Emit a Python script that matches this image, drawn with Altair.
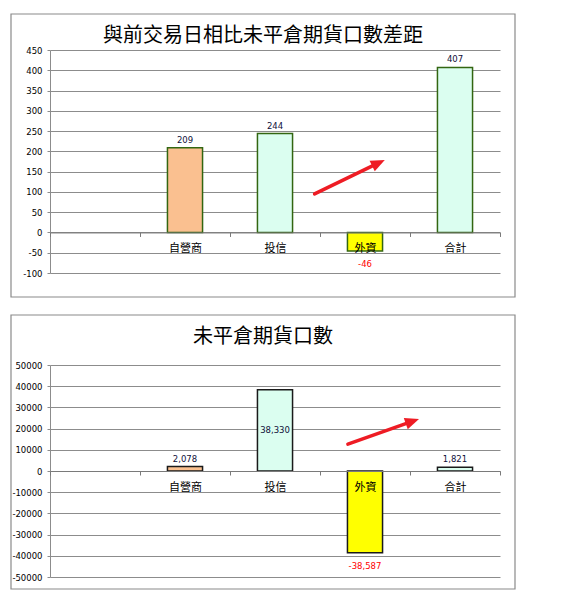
import json
import math

import altair as alt
import pandas as pd

# ---------------- data ----------------
categories = ["", "自營商", "投信", "外資", "合計"]
bar_categories = ["自營商", "投信", "外資", "合計"]

diff_title = "與前交易日相比未平倉期貨口數差距"
diff_values = [209, 244, -46, 407]
diff_ticks = [-100, -50, 0, 50, 100, 150, 200, 250, 300, 350, 400, 450]

oi_title = "未平倉期貨口數"
oi_values = [2078, 38330, -38587, 1821]
oi_ticks = [-50000, -40000, -30000, -20000, -10000, 0,
            10000, 20000, 30000, 40000, 50000]

# red arrow annotations: x in category-slot units (slot i spans [i, i+1]), y in data units
diff_arrow_x = [2.94, 3.72]
diff_arrow_y = [95, 179]
oi_arrow_x = [3.31, 4.10]
oi_arrow_y = [12700, 24500]

# ---------------- styles ----------------
diff_fills = ["#FAC090", "#DBFEF0", "#FFFF00", "#DBFEF0"]
oi_fills = ["#FCD5B4", "#DBFEF0", "#FFFF00", "#DDEBF4"]
GRID = "#8c8c8c"
NUM_FONT = "DejaVu Sans"
CJK_FONT = "Noto Sans CJK TC"
ARROW_RED = "#EE1C24"
ARROW_HEAD = "M0,0L0.55,1.3L-0.55,1.3Z"


def panel(title, values, ticks, fills, stroke, arrow_x, arrow_y, W, H,
          frame_box, title_dx, fmt, center_cats=()):
    ymin, ymax = ticks[0], ticks[-1]
    zero_from_bottom = H * (0 - ymin) / (ymax - ymin)

    df = pd.DataFrame({"cat": bar_categories, "value": values})
    df["mid"] = df["value"] / 2

    x_enc = alt.X(
        "cat:N",
        scale=alt.Scale(domain=categories, paddingInner=0, paddingOuter=0),
        axis=alt.Axis(
            title=None, labelAngle=0, tickBand="extent", offset=-zero_from_bottom,
            zindex=1, grid=False, domainColor="#7a7a7a", tickColor="#7a7a7a",
            tickSize=4, labelPadding=6, labelFont=CJK_FONT, labelFontSize=11,
            labelColor="#000000",
        ),
    )
    y_axis = alt.Axis(
        title=None, values=ticks, format="d", grid=True, gridColor=GRID,
        gridWidth=1, domainColor=GRID, tickColor=GRID, tickSize=3,
        labelPadding=5, labelFont=NUM_FONT, labelFontSize=8.5,
        labelColor="#000000",
    )
    y_scale = alt.Scale(domain=[ymin, ymax], nice=False, zero=False)
    y_enc = alt.Y("value:Q", scale=y_scale, axis=y_axis)

    bars = alt.Chart(df).mark_bar(
        width=alt.RelativeBandSize(0.39), stroke=stroke, strokeWidth=1.5
    ).encode(
        x=x_enc,
        y=y_enc,
        y2=alt.datum(0),
        color=alt.Color("cat:N", scale=alt.Scale(domain=bar_categories, range=fills),
                        legend=None),
    )

    clist = json.dumps(list(center_cats), ensure_ascii=False)
    base = alt.Chart(df).encode(x=x_enc, text=alt.Text("value:Q", format=fmt))
    pos = base.transform_filter(
        f"datum.value >= 0 && indexof({clist}, datum.cat) < 0"
    ).mark_text(dy=-8, baseline="middle", font=NUM_FONT, fontSize=8.5,
                color="#10103a").encode(y=y_enc)
    neg = base.transform_filter(
        f"datum.value < 0 && indexof({clist}, datum.cat) < 0"
    ).mark_text(dy=13, baseline="middle", font=NUM_FONT, fontSize=8.5,
                color="#FF0000").encode(y=y_enc)
    layers = [bars, pos, neg]
    if center_cats:
        mid = base.transform_filter(
            f"indexof({clist}, datum.cat) >= 0"
        ).mark_text(baseline="middle", font=NUM_FONT, fontSize=8.5,
                    color="#10103a").encode(
            y=alt.Y("mid:Q", scale=y_scale, axis=y_axis))
        layers.append(mid)
    inner = alt.layer(*layers)

    # arrow annotation
    sx = W / len(categories)
    sy = H / (ymax - ymin)
    dxp = (arrow_x[1] - arrow_x[0]) * sx
    dyp = (arrow_y[1] - arrow_y[0]) * sy
    length = math.hypot(dxp, dyp)
    t = 1 - 8 / length
    shaft = pd.DataFrame({
        "ax": [arrow_x[0], arrow_x[0] + t * (arrow_x[1] - arrow_x[0])],
        "value": [arrow_y[0], arrow_y[0] + t * (arrow_y[1] - arrow_y[0])],
    })
    tip = pd.DataFrame({"ax": [arrow_x[1]], "value": [arrow_y[1]]})
    angle = math.degrees(math.atan2(dxp, dyp))
    ax_enc = alt.X("ax:Q", scale=alt.Scale(domain=[0, len(categories)], nice=False,
                                           zero=False), axis=None)
    arrow_line = alt.Chart(shaft).mark_line(
        color=ARROW_RED, strokeWidth=3.5, strokeCap="round"
    ).encode(x=ax_enc, y=y_enc)
    arrow_head = alt.Chart(tip).mark_point(
        shape=ARROW_HEAD, size=466, filled=True, color=ARROW_RED, opacity=1,
        angle=angle, strokeWidth=0
    ).encode(x=ax_enc, y=y_enc)

    fx0, fx1, fy0, fy1 = frame_box
    frame = alt.Chart(pd.DataFrame({"f": [0]})).mark_rect(
        fill="transparent", stroke="#8a8a8a", strokeWidth=1.2
    ).encode(x=alt.value(fx0), x2=alt.value(fx1), y=alt.value(fy0), y2=alt.value(fy1))

    return alt.layer(frame, inner, arrow_line, arrow_head).resolve_scale(
        x="independent"
    ).properties(
        width=W, height=H,
        title=alt.TitleParams(
            text=title, font=CJK_FONT, fontSize=20, fontWeight="normal",
            color="#000000", anchor="middle", frame="group", dx=title_dx,
            offset=-33,
        ),
    )


top = panel(diff_title, diff_values, diff_ticks, diff_fills, "#336611",
            diff_arrow_x, diff_arrow_y, 450, 223, (-39, 465, -36, 247), -12, "d")
bottom = panel(oi_title, oi_values, oi_ticks, oi_fills, "#1a1a1a",
               oi_arrow_x, oi_arrow_y, 450, 212, (-39, 465, -50, 224), -12, ",",
               center_cats=("投信",))

chart = alt.vconcat(top, bottom, spacing=16).properties(
    padding={"left": 2, "top": 5, "right": 5, "bottom": 5},
    background="white",
).configure(
    locale=alt.Locale(number=alt.NumberLocale(
        decimal=".", thousands=",", grouping=[3], currency=["$", ""], minus="-"))
).configure_view(strokeWidth=0)

chart.save("out.html", embed_options={"renderer": "svg", "actions": False})
